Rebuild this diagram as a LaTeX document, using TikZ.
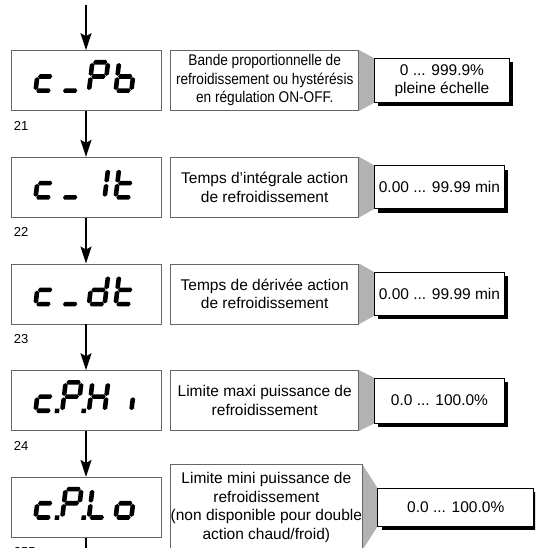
\documentclass[tikz,border=0pt]{standalone}
\usepackage{fontspec}
\setmainfont{Liberation Sans}
\newfontfamily\narrowfont[FakeStretch=0.88]{Liberation Sans}
\usetikzlibrary{positioning,arrows.meta,shadows,backgrounds}

\newcommand\hseg[3]{\fill (#1,#3) -- ++(1.6,2.3) -- (#2-1.6,#3+2.3) -- (#2,#3) -- (#2-1.6,#3-2.3) -- (#1+1.6,#3-2.3) -- cycle;}
\newcommand\vseg[3]{\fill (#1,#2) -- ++(2.3,1.6) -- (#1+2.3,#3-1.6) -- (#1,#3) -- (#1-2.3,#3-1.6) -- (#1-2.3,#2+1.6) -- cycle;}
\newcommand\lcdsega{\hseg{3}{17.3}{30.7}}
\newcommand\lcdsegg{\hseg{3}{17.3}{16.5}}
\newcommand\lcdsegd{\hseg{3}{17.3}{2.3}}
\newcommand\lcdsegf{\vseg{2.3}{17.2}{30}}
\newcommand\lcdsege{\vseg{2.3}{3}{15.8}}
\newcommand\lcdsegb{\vseg{18}{17.2}{30}}
\newcommand\lcdsegc{\vseg{18}{3}{15.8}}
\newcommand\lcdsegp{\fill (21.5,0) rectangle (26,4.5);}
\newcommand\lcd[3]{\begin{scope}[shift={(#1.center)}, shift={(#2,-12.5)}, xslant=0.12]
    \foreach \s in {#3} {\csname lcdseg\s\endcsname}
  \end{scope}}

\begin{document}
\begin{tikzpicture}[x=1pt, y=1pt, node distance=46pt,
    disp/.style={draw=black!60, line width=0.7pt, minimum width=150pt, minimum height=60pt},
    info/.style={draw=black!60, line width=0.7pt, fill=white, minimum width=188pt,
      minimum height=60pt, align=center, inner sep=0pt, font=\fontsize{15.5}{18.5}\selectfont},
    rangebox/.style={draw, line width=0.8pt, fill=white, align=center, inner sep=0pt,
      minimum width=130pt, minimum height=43pt, font=\fontsize{15.5}{18}\selectfont,
      drop shadow={shadow xshift=4pt, shadow yshift=-4pt, opacity=1, fill=black}},
    wedge/.style={fill=black!30},
    flow/.style={line width=1.5pt, -{Stealth[length=17pt, width=11pt, inset=3pt]}},
    idx/.style={anchor=north west, inner sep=0pt, font=\fontsize{13}{13}\selectfont}]

  \useasboundingbox (0,0) rectangle (535,548);
  \clip (0,0) rectangle (535,548);

  \node[disp] (disp1) at (86,467.5) {};
  \node[disp, below=of disp1] (disp2) {};
  \node[disp, below=of disp2] (disp3) {};
  \node[disp, below=of disp3] (disp4) {};
  \node[disp, below=of disp4] (disp5) {};

  \node[info, right=9pt of disp1, font=\narrowfont\fontsize{15.5}{18.5}\selectfont] (info1)
    {Bande proportionnelle de\\refroidissement ou hystérésis\\en régulation ON-OFF.};
  \node[info, right=9pt of disp2] (info2) {Temps d’intégrale action\\de refroidissement};
  \node[info, right=9pt of disp3] (info3) {Temps de dérivée action\\de refroidissement};
  \node[info, right=9pt of disp4] (info4) {Limite maxi puissance de\\refroidissement};
  \node[info, right=9pt of disp5, minimum height=85pt] (info5)
    {Limite mini puissance de\\refroidissement\\(non disponible pour double\\action chaud/froid)};

  \node[rangebox, right=15pt of info1, minimum width=135pt, minimum height=44pt] (range1)
    {0 ... 999.9\%\\pleine échelle};
  \node[rangebox, right=15pt of info2] (range2) {0.00 ... 99.99 min};
  \node[rangebox, right=15pt of info3] (range3) {0.00 ... 99.99 min};
  \node[rangebox, right=15pt of info4, minimum height=45pt] (range4) {0.0 ... 100.0\%};
  \node[rangebox, right=15pt of info5, minimum width=156pt, minimum height=38pt] (range5) {0.0 ... 100.0\%};

  \begin{scope}[on background layer]
    \foreach \i in {1,...,5}
      \fill[wedge] (info\i.north east) -- (range\i.north west)
        -- (range\i.south west) -- (info\i.south east) -- cycle;
  \end{scope}

  \node[idx] (no21) at ([shift={(3,-10)}]disp1.south west) {21};
  \node[idx] (no22) at ([shift={(3,-10)}]disp2.south west) {22};
  \node[idx] (no23) at ([shift={(3,-10)}]disp3.south west) {23};
  \node[idx] (no24) at ([shift={(3,-10)}]disp4.south west) {24};
  \node[idx] (no255) at ([shift={(3,-10)}]disp5.south west) {255};

  % c_Pb
  \lcd{disp1}{-53}{e,d,g}
  \lcd{disp1}{-26.3}{d}
  \lcd{disp1}{0.4}{a,b,f,e,g}
  \lcd{disp1}{27.1}{f,e,d,c,g}
  % c_ It
  \lcd{disp2}{-53}{e,d,g}
  \lcd{disp2}{-26.3}{d}
  \lcd{disp2}{0.4}{b,c}
  \lcd{disp2}{27.1}{f,e,d,g}
  % c_dt
  \lcd{disp3}{-53}{e,d,g}
  \lcd{disp3}{-26.3}{d}
  \lcd{disp3}{0.4}{b,c,d,e,g}
  \lcd{disp3}{27.1}{f,e,d,g}
  % c.P.H i
  \lcd{disp4}{-53}{e,d,g,p}
  \lcd{disp4}{-26.3}{a,b,f,e,g,p}
  \lcd{disp4}{0.4}{b,c,e,f,g}
  \lcd{disp4}{27.1}{c}
  % c.P.Lo
  \lcd{disp5}{-53}{e,d,g,p}
  \lcd{disp5}{-26.3}{a,b,f,e,g,p}
  \lcd{disp5}{0.4}{f,e,d}
  \lcd{disp5}{27.1}{c,d,e,g}

  \coordinate (entry) at (86,543);
  \coordinate (exit) at (86,0);
  \draw[flow] (entry) -- (disp1);
  \foreach \a/\b in {1/2,2/3,3/4,4/5}
    \draw[flow] (disp\a) -- (disp\b);
  \draw[line width=1.5pt] (disp5) -- (exit);
\end{tikzpicture}
\end{document}
